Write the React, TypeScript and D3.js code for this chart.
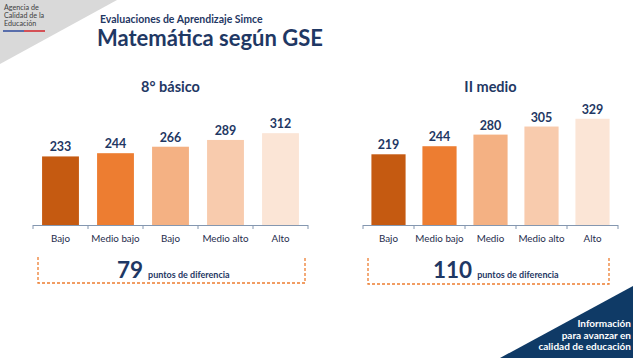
import React from "react";
import * as d3 from "d3";

const catsA = ["Bajo", "Medio bajo", "Bajo", "Medio alto", "Alto"];
const valsA = [233, 244, 266, 289, 312];
const catsB = ["Bajo", "Medio bajo", "Medio", "Medio alto", "Alto"];
const valsB = [219, 244, 280, 305, 329];
const colors = ["#c55a11", "#ed7d31", "#f4b183", "#f8cbad", "#fbe5d6"];
const diffA = "79";
const diffB = "110";

const NAVY = "#1f3864";
const FONT = "Lato, 'Open Sans', sans-serif";

type PanelProps = {
  title: string;
  cats: string[];
  vals: number[];
  x0: number;
  x1: number;
  yTop: number;
  diff: string;
  box: [number, number, number, number];
  diffX: number;
};

function Panel({ title, cats, vals, x0, x1, yTop, diff, box, diffX }: PanelProps) {
  const base = 225;
  const x = d3.scaleBand<number>().domain(d3.range(cats.length)).range([x0, x1]).paddingInner(0.33).paddingOuter(0.165);
  const y = d3.scaleLinear().domain([0, 350]).range([base, yTop]);
  const band = (x1 - x0) / cats.length;
  const [bx0, by0, bx1, by1] = box;
  return (
    <g>
      <text x={(x0 + x1) / 2} y={92} textAnchor="middle" fontFamily={FONT} fontWeight={700} fontSize={14.5} fill={NAVY}>
        {title}
      </text>
      {vals.map((v, i) => (
        <g key={i}>
          <rect x={x(i)} y={y(v)} width={x.bandwidth()} height={base - y(v)} fill={colors[i]} />
          <text x={x(i)! + x.bandwidth() / 2} y={y(v) - 5} textAnchor="middle" fontFamily={FONT} fontWeight={700} fontSize={12.5} fill={NAVY}>
            {v}
          </text>
          <text x={x(i)! + x.bandwidth() / 2} y={242} textAnchor="middle" fontFamily={FONT} fontSize={9.8} fill="#1f2d4d">
            {cats[i]}
          </text>
        </g>
      ))}
      <line x1={x0} x2={x1} y1={base + 0.5} y2={base + 0.5} stroke="#8497b0" strokeWidth={1} />
      {d3.range(cats.length + 1).map((i) => (
        <line key={i} x1={x0 + i * band} x2={x0 + i * band} y1={base} y2={base + 4} stroke="#8497b0" strokeWidth={1} />
      ))}
      <path
        d={`M${bx0},${by0} L${bx0},${by1} L${bx1},${by1} L${bx1},${by0}`}
        fill="none"
        stroke="#ed7d31"
        strokeWidth={1.3}
        strokeDasharray="3,2"
      />
      <text x={diffX} y={278} fontFamily={FONT} fontWeight={700} fill={NAVY}>
        <tspan fontSize={22.5}>{diff}</tspan>
        <tspan fontSize={9} dx={5}>puntos de diferencia</tspan>
      </text>
    </g>
  );
}

export default function App() {
  return (
    <svg width={633} height={358} style={{ position: "absolute", left: 0, top: 0, background: "#fff" }}>
      <rect width={633} height={358} fill="#fff" />
      <polygon points="0,0 117,0 0,64" fill="#d9d9d9" />
      <text fontFamily={FONT} fontSize={7.2} fill="#404040">
        <tspan x={4} y={10}>Agencia de</tspan>
        <tspan x={4} y={18}>Calidad de la</tspan>
        <tspan x={4} y={26}>Educación</tspan>
      </text>
      <line x1={3} x2={24} y1={31} y2={31} stroke="#2e4a9b" strokeWidth={1.5} />
      <line x1={24} x2={45} y1={31} y2={31} stroke="#d2232a" strokeWidth={1.5} />
      <text x={100} y={23} fontFamily={FONT} fontWeight={700} fontSize={10.5} fill={NAVY}>
        Evaluaciones de Aprendizaje Simce
      </text>
      <text x={97} y={46} fontFamily={FONT} fontWeight={700} fontSize={22} fill={NAVY}>
        Matemática según GSE
      </text>
      <Panel title="8° básico" cats={catsA} vals={valsA} x0={33} x1={308} yTop={122} diff={diffA} box={[38, 257, 305, 283]} diffX={117} />
      <Panel title="II medio" cats={catsB} vals={valsB} x0={363} x1={618} yTop={112} diff={diffB} box={[368, 258, 609, 284]} diffX={433} />
      <polygon points="633,286 633,358 500,358" fill="#0f3a66" />
      <text textAnchor="end" fontFamily={FONT} fontWeight={700} fontSize={10} fill="#fff">
        <tspan x={631} y={327}>Información</tspan>
        <tspan x={631} y={338.5}>para avanzar en</tspan>
        <tspan x={631} y={350}>calidad de educación</tspan>
      </text>
    </svg>
  );
}
